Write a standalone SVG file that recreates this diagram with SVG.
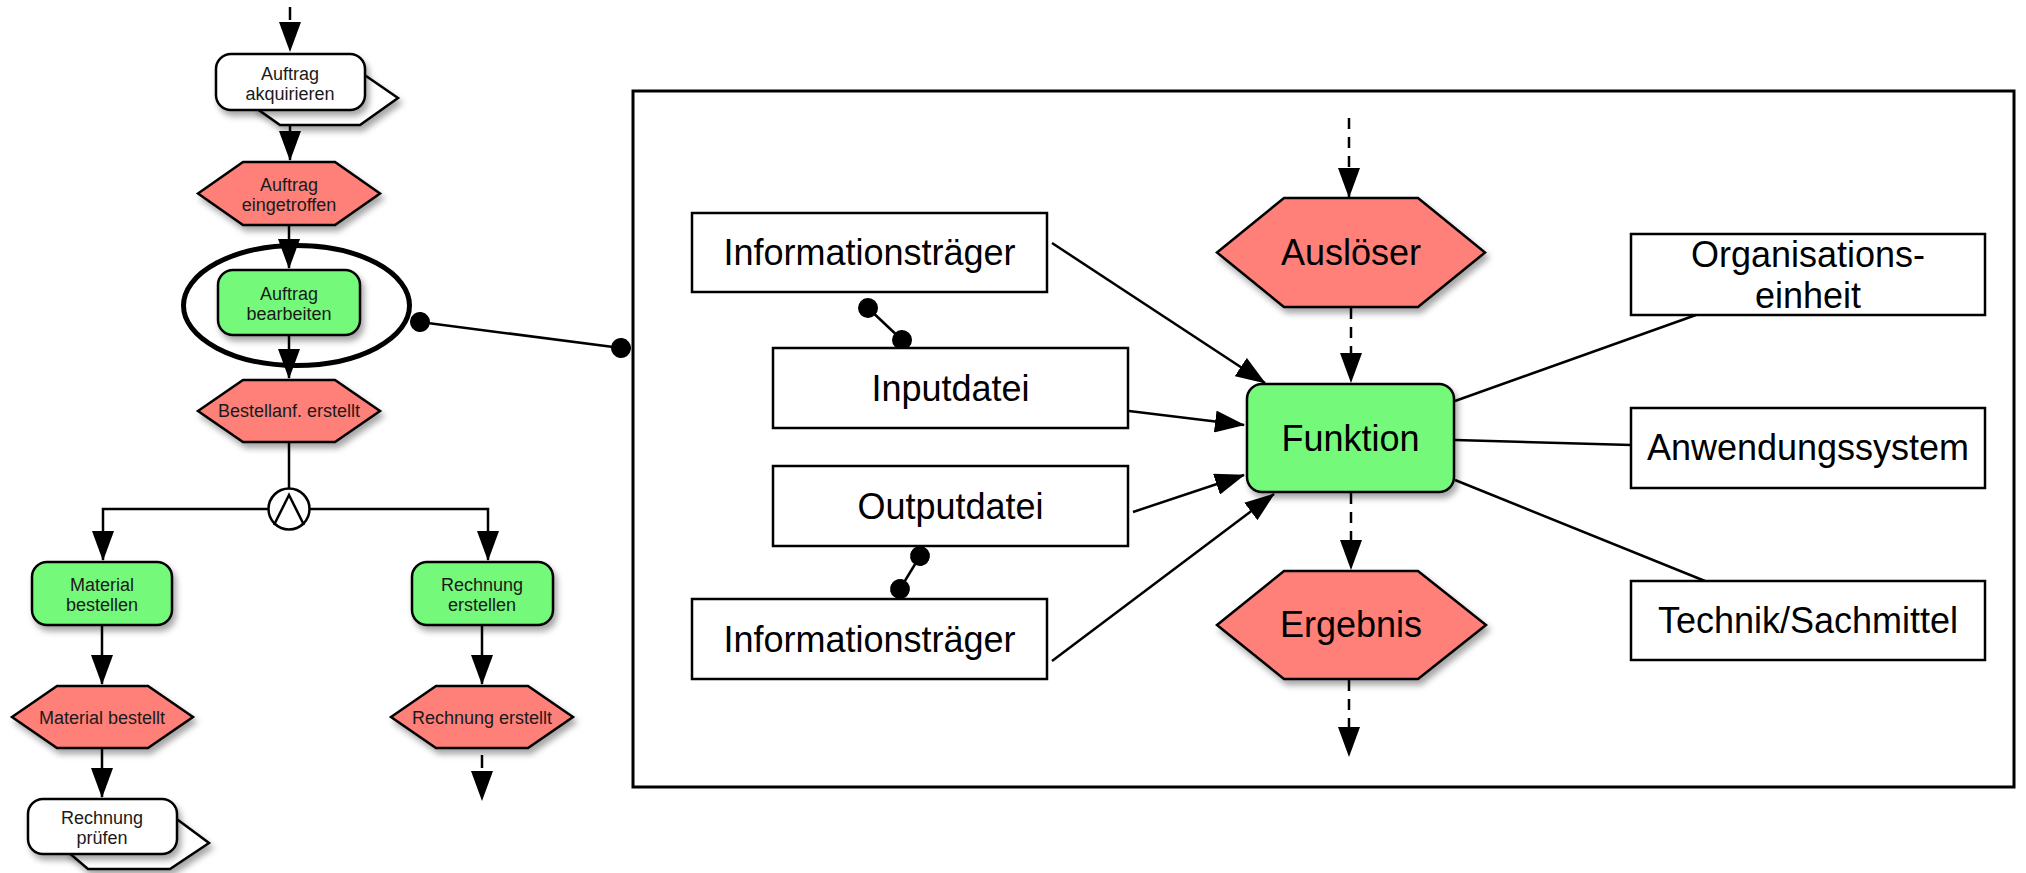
<svg xmlns="http://www.w3.org/2000/svg" width="2026" height="873" viewBox="0 0 2026 873">
<defs>
<filter id="sh" x="-20%" y="-20%" width="150%" height="160%">
<feDropShadow dx="3" dy="5" stdDeviation="3" flood-color="#000" flood-opacity="0.35"/>
</filter>
<marker id="arr" markerUnits="userSpaceOnUse" viewBox="0 0 30 22" markerWidth="30" markerHeight="22" refX="29" refY="11" orient="auto">
<path d="M0,0 L30,11 L0,22 z" fill="#000" stroke="none"/>
</marker>
<marker id="dot" markerUnits="userSpaceOnUse" viewBox="0 0 20 20" markerWidth="20" markerHeight="20" refX="10" refY="10" orient="auto">
<circle cx="10" cy="10" r="10" fill="#000" stroke="none"/>
</marker>
</defs>
<style>
.ev{fill:#ff7f79;stroke:#000;stroke-width:2.5;stroke-linejoin:miter;filter:url(#sh)}
.fn{fill:#74f97a;stroke:#000;stroke-width:2.5;filter:url(#sh)}
.pi{fill:#fff;stroke:#000;stroke-width:2.5;filter:url(#sh)}
.bx{fill:#fff;stroke:#000;stroke-width:2.5}
.sm{font-family:"Liberation Sans",Arial,sans-serif;font-size:18px;text-anchor:middle;fill:#1a1a1a}
.lg{font-family:"Liberation Sans",Arial,sans-serif;font-size:36px;text-anchor:middle;fill:#000}
.ln{fill:none;stroke:#000;stroke-width:2.5}
.ar{fill:none;stroke:#000;stroke-width:2.5;marker-end:url(#arr)}
.da{fill:none;stroke:#000;stroke-width:2.5;stroke-dasharray:11 8;marker-end:url(#arr)}
.d1{fill:none;stroke:#000;stroke-width:2.5;stroke-dasharray:13 100;marker-end:url(#arr)}
.dl{fill:none;stroke:#000;stroke-width:2.5;marker-start:url(#dot);marker-end:url(#dot)}
</style>
<rect width="2026" height="873" fill="#fff"/>

<g id="connectors">
<line class="d1" x1="290" y1="7" x2="290" y2="51"/>
<line class="ar" x1="290" y1="110" x2="290" y2="160"/>
<line class="ar" x1="289" y1="225" x2="289" y2="268"/>
<line class="ar" x1="289" y1="335" x2="289" y2="378"/>
<line class="ln" x1="289" y1="442" x2="289" y2="488"/>
<polyline class="ar" points="268,509 103,509 103,560"/>
<polyline class="ar" points="310,509 488,509 488,560"/>
<line class="ar" x1="102" y1="625" x2="102" y2="684"/>
<line class="ar" x1="482" y1="625" x2="482" y2="684"/>
<line class="ar" x1="102" y1="748" x2="102" y2="797"/>
<line class="d1" x1="482" y1="755" x2="482" y2="800"/>
<line class="dl" x1="420" y1="322" x2="621" y2="348"/>

<line class="da" x1="1349" y1="118" x2="1349" y2="197"/>
<line class="da" x1="1351" y1="308" x2="1351" y2="382"/>
<line class="da" x1="1351" y1="493" x2="1351" y2="569"/>
<line class="da" x1="1349" y1="680" x2="1349" y2="756"/>
<line class="ar" x1="1052" y1="243" x2="1265" y2="383"/>
<line class="ar" x1="1129" y1="411" x2="1244" y2="425"/>
<line class="ar" x1="1133" y1="512" x2="1244" y2="475"/>
<line class="ar" x1="1052" y1="661" x2="1274" y2="494"/>
<line class="dl" x1="868" y1="308" x2="902" y2="340"/>
<line class="dl" x1="920" y1="556" x2="900" y2="589"/>
<line class="ln" x1="1455" y1="401" x2="1696" y2="315"/>
<line class="ln" x1="1455" y1="440" x2="1631" y2="445"/>
<line class="ln" x1="1455" y1="480" x2="1705" y2="581"/>
</g>

<g id="auftrag-akquirieren">
<polygon class="pi" points="256,108 256,76 366,76 398,98 360,125 280,125"/>
<rect class="pi" x="216" y="54" width="149" height="56" rx="15"/>
<text class="sm" x="290" y="80">Auftrag</text>
<text class="sm" x="290" y="100">akquirieren</text>
</g>

<g id="auftrag-eingetroffen">
<polygon class="ev" points="198,193.5 243,162 335,162 380,193.5 335,225 243,225"/>
<text class="sm" x="289" y="191">Auftrag</text>
<text class="sm" x="289" y="211">eingetroffen</text>
</g>

<g id="auftrag-bearbeiten">
<ellipse cx="296.5" cy="305.5" rx="113" ry="60" fill="none" stroke="#000" stroke-width="5"/>
<rect class="fn" x="218" y="270" width="142" height="65" rx="15"/>
<text class="sm" x="289" y="300">Auftrag</text>
<text class="sm" x="289" y="320">bearbeiten</text>
</g>

<g id="bestellanf-erstellt">
<polygon class="ev" points="198,411 243,380 335,380 380,411 335,442 243,442"/>
<text class="sm" x="289" y="417">Bestellanf. erstellt</text>
</g>

<g id="und-konnektor">
<circle cx="289" cy="509" r="20.5" fill="#fff" stroke="#000" stroke-width="2.5"/>
<polyline points="274,525 289,495 304,525" fill="none" stroke="#000" stroke-width="2.5"/>
</g>

<g id="material-bestellen">
<rect class="fn" x="32" y="562" width="140" height="63" rx="15"/>
<text class="sm" x="102" y="591">Material</text>
<text class="sm" x="102" y="611">bestellen</text>
</g>

<g id="rechnung-erstellen">
<rect class="fn" x="412" y="562" width="141" height="63" rx="15"/>
<text class="sm" x="482" y="591">Rechnung</text>
<text class="sm" x="482" y="611">erstellen</text>
</g>

<g id="material-bestellt">
<polygon class="ev" points="12,717 57,686 148,686 193,717 148,748 57,748"/>
<text class="sm" x="102" y="724">Material bestellt</text>
</g>

<g id="rechnung-erstellt">
<polygon class="ev" points="391,717 436,686 528,686 573,717 528,748 436,748"/>
<text class="sm" x="482" y="724">Rechnung erstellt</text>
</g>

<g id="rechnung-pruefen">
<polygon class="pi" points="68,852 68,820 178,820 209,843 170,869 88,869"/>
<rect class="pi" x="28" y="799" width="149" height="55" rx="15"/>
<text class="sm" x="102" y="824">Rechnung</text>
<text class="sm" x="102" y="844">prüfen</text>
</g>

<g id="rahmen">
<rect x="633" y="91" width="1381" height="696" fill="none" stroke="#000" stroke-width="3"/>
</g>

<g id="informationstraeger-1">
<rect class="bx" x="692" y="213" width="355" height="79"/>
<text class="lg" x="869.5" y="265">Informationsträger</text>
</g>

<g id="inputdatei">
<rect class="bx" x="773" y="348" width="355" height="80"/>
<text class="lg" x="950.5" y="401">Inputdatei</text>
</g>

<g id="outputdatei">
<rect class="bx" x="773" y="466" width="355" height="80"/>
<text class="lg" x="950.5" y="519">Outputdatei</text>
</g>

<g id="informationstraeger-2">
<rect class="bx" x="692" y="599" width="355" height="80"/>
<text class="lg" x="869.5" y="652">Informationsträger</text>
</g>

<g id="ausloeser">
<polygon class="ev" points="1217,252.5 1284,198 1418,198 1485,252.5 1418,307 1284,307"/>
<text class="lg" x="1351" y="265">Auslöser</text>
</g>

<g id="funktion">
<rect class="fn" x="1247" y="384" width="207" height="108" rx="15"/>
<text class="lg" x="1350.5" y="451">Funktion</text>
</g>

<g id="ergebnis">
<polygon class="ev" points="1217,625 1284,571 1418,571 1486,625 1418,679 1284,679"/>
<text class="lg" x="1351" y="637">Ergebnis</text>
</g>

<g id="organisationseinheit">
<rect class="bx" x="1631" y="234" width="354" height="81"/>
<text class="lg" x="1808" y="267">Organisations-</text>
<text class="lg" x="1808" y="308">einheit</text>
</g>

<g id="anwendungssystem">
<rect class="bx" x="1631" y="408" width="354" height="80"/>
<text class="lg" x="1808" y="460">Anwendungssystem</text>
</g>

<g id="technik-sachmittel">
<rect class="bx" x="1631" y="581" width="354" height="79"/>
<text class="lg" x="1808" y="633">Technik/Sachmittel</text>
</g>
</svg>
